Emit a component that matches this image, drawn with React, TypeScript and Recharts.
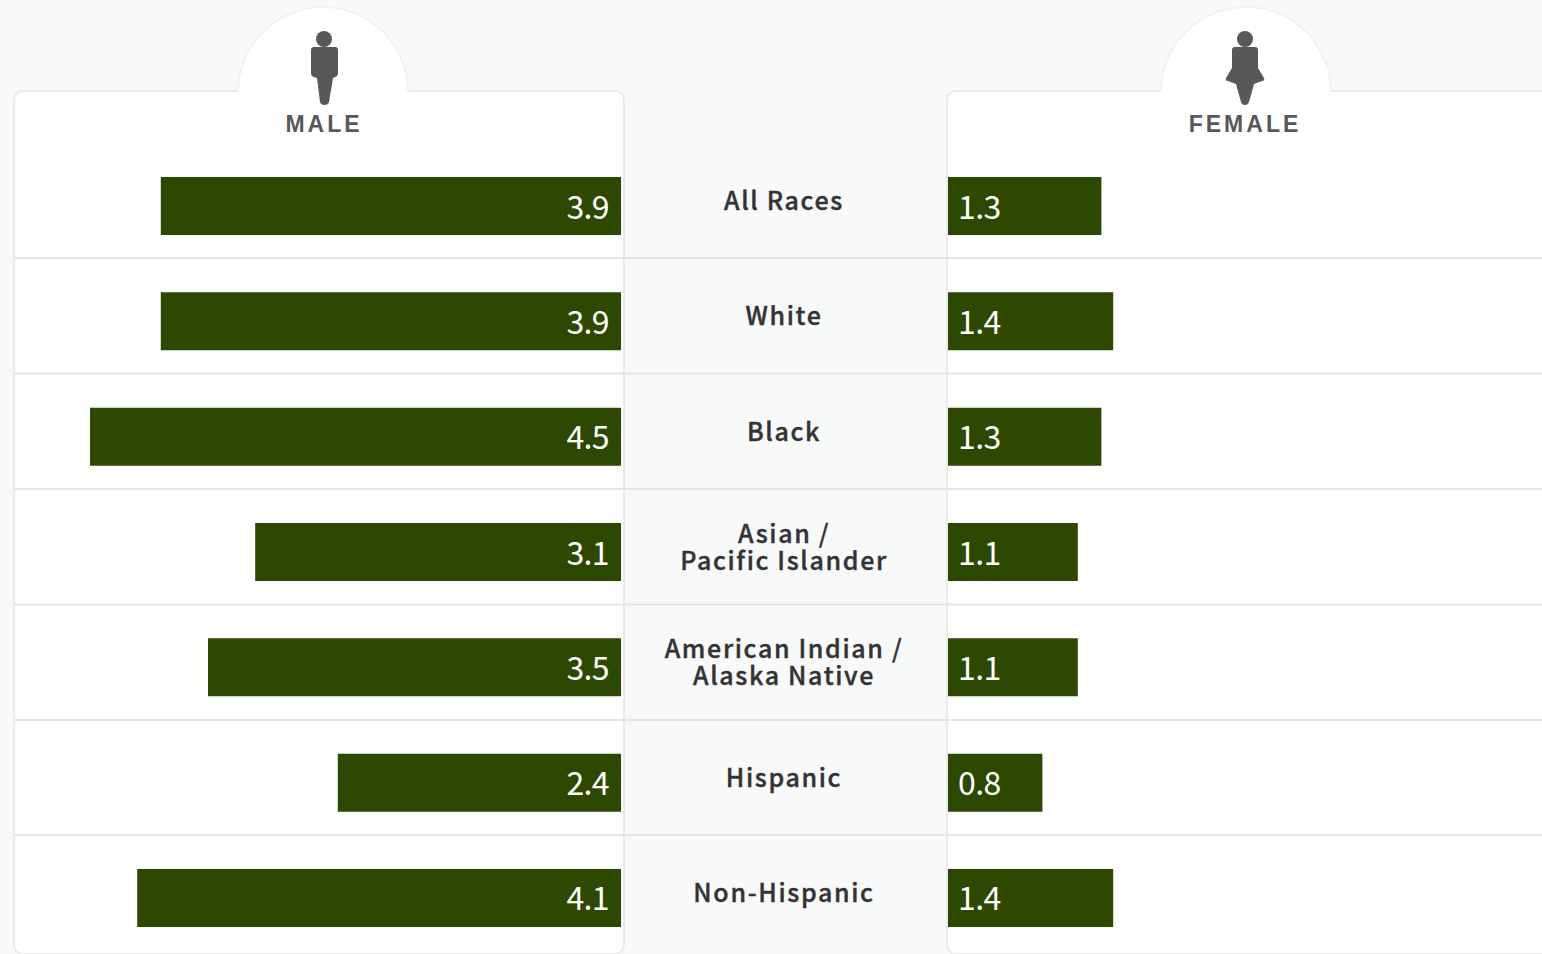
import { Bar, BarChart, LabelList, XAxis, YAxis } from "recharts";

const categories = [
  "All Races",
  "White",
  "Black",
  "Asian / Pacific Islander",
  "American Indian / Alaska Native",
  "Hispanic",
  "Non-Hispanic",
];
const maleValues = [3.9, 3.9, 4.5, 3.1, 3.5, 2.4, 4.1];
const femaleValues = [1.3, 1.4, 1.3, 1.1, 1.1, 0.8, 1.4];
const wrappedLabels: Record<string, string[]> = {
  "Asian / Pacific Islander": ["Asian /", "Pacific Islander"],
  "American Indian / Alaska Native": ["American Indian /", "Alaska Native"],
};
const rowLines = [258, 373.5, 489, 604.5, 720, 835];

const data = categories.map((category, i) => ({
  category,
  male: maleValues[i],
  female: femaleValues[i],
}));

const BAR = "#2d4800";
const BORDER = "#e4e5e5";
const CARD_EDGE = "#e9eaea";
const BODY_FONT = '"Noto Sans CJK JP", "Noto Sans", sans-serif';

const CategoryTick = ({ x, y, payload }: any) => {
  const lines = wrappedLabels[payload.value] ?? [payload.value];
  const top = y - 4.6 - ((lines.length - 1) * 27) / 2;
  return (
    <text
      x={x - 164}
      textAnchor="middle"
      fontFamily={BODY_FONT}
      fontSize={25}
      fontWeight={500}
      letterSpacing={1.65}
      fill="#333335"
      stroke="#333335"
      strokeWidth={0.4}
    >
      {lines.map((line: string, i: number) => (
        <tspan key={line} x={x - 164} y={top + i * 27} dy="0.36em">
          {line}
        </tspan>
      ))}
    </text>
  );
};

// Half-round tab rising out of the top edge of a card
const Tab = ({ cx }: { cx: number }) => (
  <path
    d={`M${cx - 85} 92A85 85 0 0 1 ${cx + 85} 92Z`}
    fill="#fff"
    stroke="none"
  />
);
const TabEdge = ({ cx }: { cx: number }) => (
  <path
    d={`M${cx - 85} 92A85 85 0 0 1 ${cx + 85} 92`}
    fill="none"
    stroke="#f1f2f2"
    strokeWidth={2}
  />
);

// Card outlines, row rules and the two person badges sit behind the charts
const Backdrop = () => (
  <svg width={1542} height={954} style={{ position: "absolute", left: 0, top: 0 }}>
    <rect width={1542} height={954} fill="#f8f9f9" />
    <rect x={14} y={91} width={610} height={863} rx={9} fill="#fff" stroke={CARD_EDGE} strokeWidth={2} />
    <rect x={947} y={91} width={620} height={863} rx={9} fill="#fff" stroke={CARD_EDGE} strokeWidth={2} />
    <Tab cx={323} />
    <Tab cx={1246} />
    <TabEdge cx={323} />
    <TabEdge cx={1246} />
    <rect x={239} y={89} width={168} height={5} fill="#fff" />
    <rect x={1162} y={89} width={168} height={5} fill="#fff" />
    {rowLines.map((y) => (
      <line key={y} x1={14} x2={1542} y1={y} y2={y} stroke={BORDER} strokeWidth={2} />
    ))}
    <g fill="#58585a">
      <circle cx={324} cy={39} r={8} />
      <path d="M314 47H335Q338 47 338 50V73Q338 76 335 77L333 78L329 102Q328 105 324.5 105Q321 105 320 102L317 78L314 77Q311 76 311 73V50Q311 47 314 47Z" />
      <circle cx={1245} cy={39} r={8} />
      <path d="M1235 47H1255Q1258 47 1258 50V68L1264 78Q1265 81 1262 81L1254 84L1249 102Q1248 105 1245 105Q1242 105 1241 102L1236 84L1228 81Q1225 81 1226 78L1232 68V50Q1232 47 1235 47Z" />
    </g>
    <g fontFamily='"Liberation Sans", sans-serif' fontWeight={700} fontSize={23} letterSpacing={3} fill="#58585a" textAnchor="middle">
      <text x={324} y={132}>MALE</text>
      <text x={1245} y={132}>FEMALE</text>
    </g>
  </svg>
);

const valueLabel = {
  fill: "#ffffff",
  fontFamily: BODY_FONT,
  fontSize: 32,
  fontWeight: 400,
  letterSpacing: -0.6,
};

// Value printed inside the bar, next to the centre column
const ValueText = ({ x, y, width, height, value, align }: any) => {
  const left = Math.min(x, x + width);
  const right = Math.max(x, x + width);
  return (
    <text
      x={align === "end" ? right - 12 : left + 10}
      y={y + height / 2 + 1}
      dy="0.36em"
      textAnchor={align}
      style={valueLabel}
    >
      {Number(value).toFixed(1)}
    </text>
  );
};

const App = () => (
  <div
    style={{
      position: "absolute",
      left: 0,
      top: 0,
      width: 1542,
      height: 954,
      overflow: "hidden",
    }}
  >
    <Backdrop />
    <div style={{ position: "absolute", left: 0, top: 0 }}>
      <BarChart
        width={621}
        height={960}
        data={data}
        layout="vertical"
        margin={{ top: 148, right: 0, bottom: 4.7, left: 31 }}
      >
        <XAxis type="number" domain={[0, 5]} reversed hide />
        <YAxis type="category" dataKey="category" hide />
        <Bar dataKey="male" fill={BAR} barSize={58} isAnimationActive={false}>
          <LabelList
            content={(props: any) => <ValueText {...props} align="end" />}
            dataKey="male"
          />
        </Bar>
      </BarChart>
    </div>
    <div style={{ position: "absolute", left: 624, top: 0 }}>
      <BarChart
        width={918}
        height={960}
        data={data}
        layout="vertical"
        margin={{ top: 148, right: 4, bottom: 4.7, left: 0 }}
      >
        <XAxis type="number" domain={[0, 5]} hide />
        <YAxis
          type="category"
          dataKey="category"
          width={324}
          axisLine={false}
          tickLine={false}
          tickSize={0}
          tickMargin={0}
          interval={0}
          tick={CategoryTick}
        />
        <Bar dataKey="female" fill={BAR} barSize={58} isAnimationActive={false}>
          <LabelList
            content={(props: any) => <ValueText {...props} align="start" />}
            dataKey="female"
          />
        </Bar>
      </BarChart>
    </div>
  </div>
);

export default App;
